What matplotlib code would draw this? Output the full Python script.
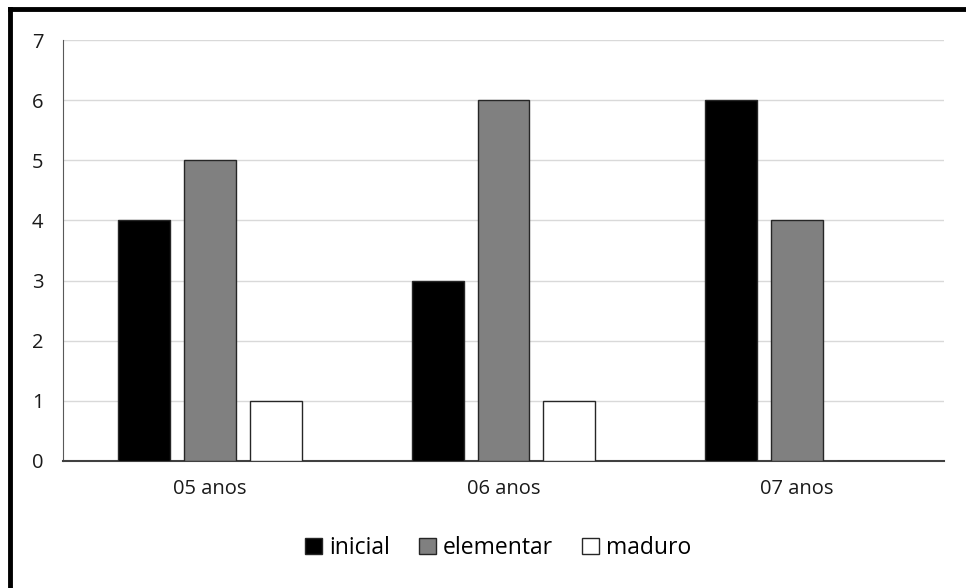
import numpy as np
import matplotlib.pyplot as plt

plt.rcParams['font.family'] = ['Open Sans', 'DejaVu Sans']

ages = ["05 anos", "06 anos", "07 anos"]
levels = ["inicial", "elementar", "maduro"]
inicial = [4, 3, 6]
elementar = [5, 6, 4]
maduro = [1, 1, 0]
colors = ["#000000", "#808080", "#ffffff"]

fig = plt.figure(figsize=(9.66, 5.88), dpi=100)
ax = fig.add_axes([63 / 966, 1 - 461 / 588, 881 / 966, 421 / 588])

x = np.arange(len(ages))
step = 0.2247
width = 0.177
for i, (vals, col, lab) in enumerate(zip([inicial, elementar, maduro], colors, levels)):
    ax.bar(x + (i - 1) * step, vals, width, color=col, edgecolor="#262626",
           linewidth=1.0, label=lab, zorder=3)

ax.set_xlim(-0.5, 2.5)
ax.set_ylim(0, 7)
ax.set_yticks(range(8))
ax.set_xticks(x)
ax.set_xticklabels(ages)
ax.grid(axis="y", color="#d9d9d9", linewidth=1, zorder=0)
for s in ["top", "right"]:
    ax.spines[s].set_visible(False)
ax.spines["left"].set_color("#595959")
ax.spines["bottom"].set_color("#404040")
ax.spines["bottom"].set_linewidth(1.5)
ax.tick_params(axis="both", length=0, labelsize=14.5, colors="#1a1a1a")
ax.tick_params(axis="y", pad=14)
ax.tick_params(axis="x", pad=13)

leg = ax.legend(loc="center", bbox_to_anchor=(498 / 966, 1 - 548 / 588),
                bbox_transform=fig.transFigure, ncol=3, frameon=False,
                fontsize=16.5, handlelength=0.75, handleheight=0.75,
                handletextpad=0.3, columnspacing=1.25)

# frame lines along the top and left edge
fig.add_artist(plt.Line2D([10 / 966, 1], [1 - 9 / 588, 1 - 9 / 588],
                          transform=fig.transFigure, color="black", linewidth=3.5))
fig.add_artist(plt.Line2D([10 / 966, 10 / 966], [0, 1 - 9 / 588],
                          transform=fig.transFigure, color="black", linewidth=3.5))

fig.savefig("out.png", dpi=100)
